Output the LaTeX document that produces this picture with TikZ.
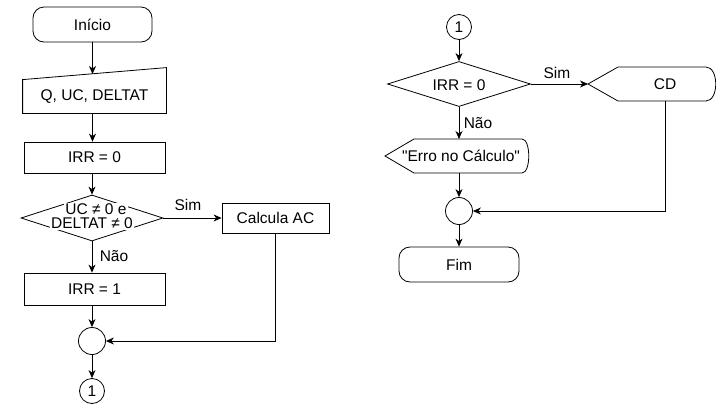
\documentclass[tikz,border=0pt]{standalone}
\usepackage{fontspec}
\setmainfont{Liberation Sans}[Ligatures=TeXOff]
\usetikzlibrary{arrows.meta,shapes.geometric}
\begin{document}
\begin{tikzpicture}[x=1pt,y=-1pt, line width=0.8pt, font=\fontsize{15.5}{15}\selectfont,
 arr/.style={-{Stealth[length=8pt,width=7pt,inset=2.5pt]}},
 term/.style={draw, rounded corners=11pt, minimum width=119pt, minimum height=35pt, inner sep=0pt},
 proc/.style={draw, minimum width=141pt, minimum height=31pt, inner sep=0pt},
 circ/.style={draw, circle, minimum size=27pt, inner sep=0pt},
 conn/.style={draw, circle, minimum size=25pt, inner sep=0pt},
 lbl/.style={inner sep=0pt},
 wlbl/.style={fill=white, inner sep=1pt}]
\useasboundingbox (0,0) rectangle (716,405);

% ---------- left column ----------
\node[term] (ini) at (92.5,24.5) {Início};
\node[minimum width=143pt, minimum height=33pt, inner sep=0pt] (q) at (94.5,96.5) {Q, UC, DELTAT};
\draw (q.south west) -- (q.south east) -- ([yshift=12pt]q.north east) -- (q.north west) -- cycle;
\coordinate (qin) at (92.5,74);
\draw[arr] (ini) -- (qin);

\node[proc] (irr0) at (94.5,157.5) {IRR = 0};
\draw[arr] (q.south -| ini) -- (irr0.north -| ini);

\node[diamond, draw, minimum width=142pt, minimum height=46pt, inner sep=0pt] (dec1) at (92,218) {};
\node[wlbl] (t1) at (96,209) {UC ≠ 0 e};
\node[wlbl] (t2) at (92,223.5) {DELTAT ≠ 0};
\draw[arr] (irr0.south -| dec1) -- (dec1.north);

\node[proc, minimum width=107pt, minimum height=30pt] (calc) at (275.5,218) {Calcula AC};
\draw[arr] (dec1.east) -- (calc.west);
\node[lbl] (sim1) at (188,205) {Sim};

\node[proc, minimum height=32pt] (irr1) at (94.5,289) {IRR = 1};
\draw[arr] (dec1.south) -- (irr1.north -| dec1);
\node[lbl] (nao1) at (114,256) {Não};

\node[circ] (m1) at (92,341) {};
\draw[arr] (irr1.south -| m1) -- (m1.north);
\draw[arr] (calc.south) |- (m1.east);

\node[conn] (c1) at (92,391) {1};
\draw[arr] (m1) -- (c1);

% ---------- right column ----------
\node[conn] (c2) at (459,27) {1};
\node[diamond, draw, minimum width=143pt, minimum height=45pt, inner sep=0pt] (dec2) at (459,84) {};
\node[lbl] (t3) at (459,85) {IRR = 0};
\draw[arr] (c2) -- (dec2.north);

\node[lbl] (cd) at (665,84) {CD};
\draw (588,84) -- (618,67) -- (706,67) .. controls (719,67) and (719,101) .. (706,101) -- (618,101) -- cycle;
\coordinate (cdl) at (588,84);
\coordinate (cdb) at (665,101);
\draw[arr] (dec2.east) -- (cdl);
\node[lbl] (sim2) at (557,73) {Sim};

\node[lbl] (erro) at (461,156) {"Erro no Cálculo"};
\draw (385,156) -- (414,139) -- (522,139) .. controls (531,139) and (531,173) .. (522,173) -- (414,173) -- cycle;
\coordinate (erroT) at (459,139);
\coordinate (erroB) at (459,173);
\draw[arr] (dec2.south) -- (erroT);
\node[lbl] (nao2) at (478,123) {Não};

\node[circ] (m2) at (459,211) {};
\draw[arr] (erroB) -- (m2.north);
\draw[arr] (cdb) |- (m2.east);

\node[term, minimum width=120pt] (fim) at (459,264.5) {Fim};
\draw[arr] (m2) -- (fim);
\end{tikzpicture}
\end{document}
